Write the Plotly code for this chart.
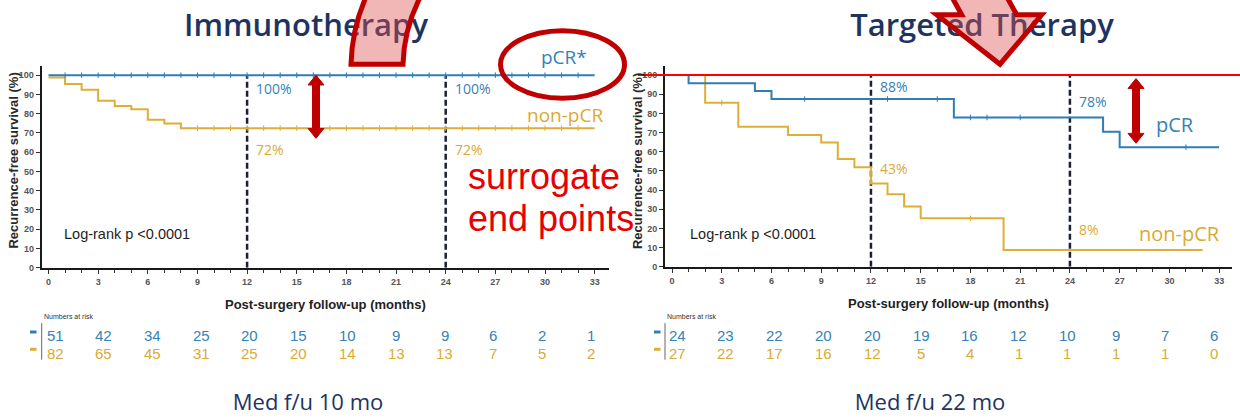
import plotly.graph_objects as go

W, H = 1240, 419

# ---------------- data ----------------
immuno_pcr_t = [0, 33]
immuno_pcr_s = [100, 100]
immuno_non_t = [0, 1, 2, 3, 4, 5, 6, 7, 8, 33]
immuno_non_s = [98.8, 95.4, 92.4, 86.7, 84.0, 82.3, 76.9, 74.9, 72.5, 72.5]
immuno_pcr_cens = list(range(1, 33))
immuno_non_cens = list(range(9, 33))

target_pcr_t = [0, 1, 5, 6, 17, 26, 27, 33]
target_pcr_s = [100, 95.8, 91.7, 87.5, 77.9, 70.4, 62.4, 62.4]
target_non_t = [0, 2, 4, 7, 9, 10, 11, 12, 13, 14, 15, 20, 32]
target_non_s = [100, 85.6, 73.0, 68.7, 64.8, 56.2, 51.9, 43.5, 37.8, 31.4, 25.3, 8.7, 8.7]
target_pcr_cens = [8, 13, 16, 18, 19, 21, 31]
target_non_cens = [3, 18]

landmarks = [12, 24]
immuno_pct_pcr = ["100%", "100%"]
immuno_pct_non = ["72%", "72%"]
target_pct_pcr = ["88%", "78%"]
target_pct_non = ["43%", "8%"]

risk_months = [0, 3, 6, 9, 12, 15, 18, 21, 24, 27, 30, 33]
immuno_risk_pcr = [51, 42, 34, 25, 20, 15, 10, 9, 9, 6, 2, 1]
immuno_risk_non = [82, 65, 45, 31, 25, 20, 14, 13, 13, 7, 5, 2]
target_risk_pcr = [24, 23, 22, 20, 20, 19, 16, 12, 10, 9, 7, 6]
target_risk_non = [27, 22, 17, 16, 12, 5, 4, 1, 1, 1, 1, 0]

titles = ["Immunotherapy", "Targeted Therapy"]
med_fu = ["Med f/u 10 mo", "Med f/u 22 mo"]

# ---------------- style ----------------
BLUE = "#2f7db3"
GOLD = "#deae38"
BLUE_T = "#3582b5"
GOLD_T = "#d9aa35"
NAVY = "#1d3461"
DARKRED = "#c00000"
RED = "#e60000"
PINK = "rgba(222,80,80,0.42)"


def step_val(t, times, vals):
    v = vals[0]
    for tt, vv in zip(times, vals):
        if tt <= t:
            v = vv
    return v


def px(x):
    return x / W


def py(y):
    return 1 - y / H


fig = go.Figure()

# panel geometry (pixels)
panels = [
    dict(xa="x", ya="y", xl=41.7, xr=609, yb=271, yt=66.7, x0=48.5, sx=16.55, ys=1.949,
         tab="x3", t0=55, tsx=16.24),
    dict(xa="x2", ya="y2", xl=665, xr=1231.7, yb=270, yt=67, x0=672, sx=16.58, ys=1.94,
         tab="x4", t0=677, tsx=16.27),
]

curves = [
    (immuno_pcr_t, immuno_pcr_s, immuno_pcr_cens, immuno_non_t, immuno_non_s, immuno_non_cens),
    (target_pcr_t, target_pcr_s, target_pcr_cens, target_non_t, target_non_s, target_non_cens),
]

for i, (p, c) in enumerate(zip(panels, curves)):
    pt, ps, pc, nt, ns, nc = c
    for lm in landmarks:
        fig.add_trace(go.Scatter(x=[lm, lm], y=[0, 100], mode="lines",
                                 line=dict(color="#1b2033", width=2.5, dash="6px,3px"),
                                 xaxis=p["xa"], yaxis=p["ya"], showlegend=False, hoverinfo="skip"))
    for tt, ss, cc, col in [(nt, ns, nc, GOLD), (pt, ps, pc, BLUE)]:
        fig.add_trace(go.Scatter(x=tt, y=ss, mode="lines", line=dict(color=col, width=2, shape="hv"),
                                 xaxis=p["xa"], yaxis=p["ya"], showlegend=False, hoverinfo="skip",
                                 cliponaxis=False))
        fig.add_trace(go.Scatter(x=cc, y=[step_val(t, tt, ss) for t in cc], mode="markers",
                                 marker=dict(symbol="line-ns", size=4, line=dict(color=col, width=1)),
                                 xaxis=p["xa"], yaxis=p["ya"], showlegend=False, hoverinfo="skip",
                                 cliponaxis=False))

# axes
layout_axes = {}
for i, p in enumerate(panels):
    n = "" if i == 0 else "2"
    xr0 = (p["xl"] - p["x0"]) / p["sx"]
    xr1 = (p["xr"] - p["x0"]) / p["sx"]
    ytop = (p["yb"] - p["yt"]) / p["ys"]
    layout_axes["xaxis" + n] = dict(
        domain=[px(p["xl"]), px(p["xr"])], range=[xr0, xr1], anchor="y" + n,
        tickmode="array", tickvals=risk_months, ticktext=[str(m) for m in risk_months],
        ticks="outside", ticklen=4, tickwidth=1.2, tickcolor="#333",
        minor=dict(dtick=1, tick0=0, ticks="outside", ticklen=3, tickwidth=1, tickcolor="#333"),
        showline=True, linecolor="#1a1a1a", linewidth=2, showgrid=False, zeroline=False,
        tickfont=dict(family="Liberation Sans", size=9, color="#555", weight="bold"),
    )
    layout_axes["yaxis" + n] = dict(
        domain=[py(p["yb"]), py(p["yt"])], range=[0, ytop], anchor="x" + n,
        tickmode="array", tickvals=list(range(0, 101, 10)),
        ticks="outside", ticklen=4, tickwidth=1.2, tickcolor="#333",
        showline=True, linecolor="#1a1a1a", linewidth=2, showgrid=False, zeroline=False,
        tickfont=dict(family="Liberation Sans", size=9, color="#555", weight="bold"),
    )
    tn = "3" if i == 0 else "4"
    layout_axes["xaxis" + tn] = dict(
        domain=[px(p["xl"]), px(p["xr"])],
        range=[(p["xl"] - p["t0"]) / p["tsx"], (p["xr"] - p["t0"]) / p["tsx"]],
        visible=False, anchor="y5", showgrid=False, zeroline=False,
    )

# pixel overlay axis for decorations
layout_axes["xaxis5"] = dict(domain=[0, 1], range=[0, W], visible=False, anchor="y5",
                             showgrid=False, zeroline=False)
layout_axes["yaxis5"] = dict(domain=[0, 1], range=[H, 0], visible=False, anchor="x5",
                             showgrid=False, zeroline=False)

# titles as text traces (so the translucent arrows lie over them)
fig.add_trace(go.Scatter(x=[306, 982], y=[29, 29], text=titles, mode="text",
                         textposition="middle center", cliponaxis=False,
                         textfont=dict(family="Open Sans", size=31, color=NAVY, weight=600),
                         xaxis="x5", yaxis="y5", showlegend=False, hoverinfo="skip"))
fig.add_trace(go.Scatter(x=[308, 930], y=[409, 409], text=med_fu, mode="text",
                         textposition="middle center", cliponaxis=False,
                         textfont=dict(family="Open Sans", size=22, color=NAVY),
                         xaxis="x5", yaxis="y5", showlegend=False, hoverinfo="skip"))

ann = []
pct_sets = [
    (immuno_pct_pcr, [93.1, 93.1], immuno_pct_non, [61.2, 61.2]),
    (target_pct_pcr, [94.0, 86.2], target_pct_non, [51.2, 19.7]),
]
for i, (p, ps) in enumerate(zip(panels, pct_sets)):
    tp, yp, tn_, yn = ps
    for j, lm in enumerate(landmarks):
        ann.append(dict(x=lm, y=yp[j], xref=p["xa"], yref=p["ya"], text=tp[j], showarrow=False,
                        xanchor="left", yanchor="middle", xshift=7,
                        font=dict(family="Open Sans", size=14, color=BLUE_T)))
        ann.append(dict(x=lm, y=yn[j], xref=p["xa"], yref=p["ya"], text=tn_[j], showarrow=False,
                        xanchor="left", yanchor="middle", xshift=7,
                        font=dict(family="Open Sans", size=14, color=GOLD_T)))

ann.append(dict(x=564, y=58, xref="x5", yref="y5", text="pCR*", showarrow=False,
                font=dict(family="Open Sans", size=19, color=BLUE_T)))
ann.append(dict(x=564.5, y=116.5, xref="x5", yref="y5", text="non-pCR", showarrow=False,
                font=dict(family="Open Sans", size=19, color=GOLD_T)))
ann.append(dict(x=1175, y=126, xref="x5", yref="y5", text="pCR", showarrow=False,
                font=dict(family="Open Sans", size=20, color=BLUE_T)))
ann.append(dict(x=1179.5, y=236, xref="x5", yref="y5", text="non-pCR", showarrow=False,
                font=dict(family="Open Sans", size=20, color=GOLD_T)))

for (lx, ly), (xt, xty), ytx in [((62, 237), (325, 308), 13.5), ((688, 237), (948, 307), 637)]:
    ann.append(dict(x=lx, y=ly, xref="x5", yref="y5", text="Log-rank p <0.0001", showarrow=False,
                    xanchor="left", yanchor="middle",
                    font=dict(family="Liberation Sans", size=14.5, color="#1e1e1e")))
    ann.append(dict(x=xt, y=xty, xref="x5", yref="y5", text="Post-surgery follow-up (months)",
                    showarrow=False, xanchor="center", yanchor="middle",
                    font=dict(family="Liberation Sans", size=13, color="#222", weight="bold")))
    ann.append(dict(x=ytx, y=163, xref="x5", yref="y5", text="Recurrence-free survival (%)",
                    showarrow=False, textangle=-90, xanchor="center", yanchor="middle",
                    font=dict(family="Liberation Sans", size=13, color="#2a2a2a", weight="bold")))

risk_sets = [(immuno_risk_pcr, immuno_risk_non), (target_risk_pcr, target_risk_non)]
for p, (rp, rn) in zip(panels, risk_sets):
    for m, a, b in zip(risk_months, rp, rn):
        ann.append(dict(x=m, y=340, xref=p["tab"], yref="y5", text=str(a), showarrow=False,
                        xanchor="center", yanchor="middle",
                        font=dict(family="Liberation Sans", size=15, color=BLUE_T)))
        ann.append(dict(x=m, y=358, xref=p["tab"], yref="y5", text=str(b), showarrow=False,
                        xanchor="center", yanchor="middle",
                        font=dict(family="Liberation Sans", size=15, color=GOLD_T)))
    ann.append(dict(x=p["xl"], y=320, xref="x5", yref="y5", text="Numbers at risk", showarrow=False,
                    xanchor="left", yanchor="middle",
                    font=dict(family="Liberation Sans", size=7, color="#333")))

ann.append(dict(x=466, y=179, xref="x5", yref="y5", text="surrogate", showarrow=False,
                xanchor="left", yanchor="middle",
                font=dict(family="Liberation Sans", size=36, color=RED)))
ann.append(dict(x=466, y=221, xref="x5", yref="y5", text="end points", showarrow=False,
                xanchor="left", yanchor="middle",
                font=dict(family="Liberation Sans", size=36, color=RED)))

shapes = []
for mx, sx_ in [(30, 41.7), (654, 665)]:
    shapes.append(dict(type="rect", xref="x5", yref="y5", x0=mx, x1=mx + 6.5, y0=334.5, y1=337.5,
                       fillcolor=BLUE, line=dict(width=0), layer="above"))
    shapes.append(dict(type="rect", xref="x5", yref="y5", x0=mx, x1=mx + 6.5, y0=352, y1=355,
                       fillcolor=GOLD, line=dict(width=0), layer="above"))
    shapes.append(dict(type="line", xref="x5", yref="y5", x0=sx_, x1=sx_, y0=327, y1=364,
                       line=dict(color="#666", width=1), layer="above"))

shapes.append(dict(type="line", xref="x5", yref="y5", x0=638, x1=W, y0=76, y1=76,
                   line=dict(color="#ff0000", width=2), layer="above"))

shapes.append(dict(type="circle", xref="x5", yref="y5", x0=500.5, x1=624.5, y0=31, y1=99.5,
                   line=dict(color=DARKRED, width=5), layer="above"))


def dbl_arrow(cx, ytop, ybot, hw=8, hl=10, sw=3.5):
    return (f"M {cx},{ytop} L {cx+hw},{ytop+hl} L {cx+sw},{ytop+hl} L {cx+sw},{ybot-hl} "
            f"L {cx+hw},{ybot-hl} L {cx},{ybot} L {cx-hw},{ybot-hl} L {cx-sw},{ybot-hl} "
            f"L {cx-sw},{ytop+hl} L {cx-hw},{ytop+hl} Z")


shapes.append(dict(type="path", xref="x5", yref="y5", path=dbl_arrow(316, 76, 140),
                   fillcolor=DARKRED, line=dict(color=DARKRED, width=1), layer="above"))
shapes.append(dict(type="path", xref="x5", yref="y5", path=dbl_arrow(1136, 79.5, 145),
                   fillcolor=DARKRED, line=dict(color=DARKRED, width=1), layer="above"))

shapes.append(dict(type="path", xref="x5", yref="y5",
                   path="M 351,65 Q 352,25 370,-12 L 425,-12 Q 404,25 403,65 Z",
                   fillcolor=PINK, line=dict(color=DARKRED, width=5), layer="above"))
shapes.append(dict(type="path", xref="x5", yref="y5",
                   path="M 947,-12 L 961.7,15 L 936.7,15 L 1000,65 L 1041.7,15 L 1016.7,15 L 1002,-12 Z",
                   fillcolor=PINK, line=dict(color=DARKRED, width=5), layer="above"))

fig.update_layout(
    width=W, height=H, margin=dict(l=0, r=0, t=0, b=0),
    paper_bgcolor="white", plot_bgcolor="rgba(0,0,0,0)",
    showlegend=False, annotations=ann, shapes=shapes, **layout_axes,
)

fig.write_html("out.html", config={"displayModeBar": False})
